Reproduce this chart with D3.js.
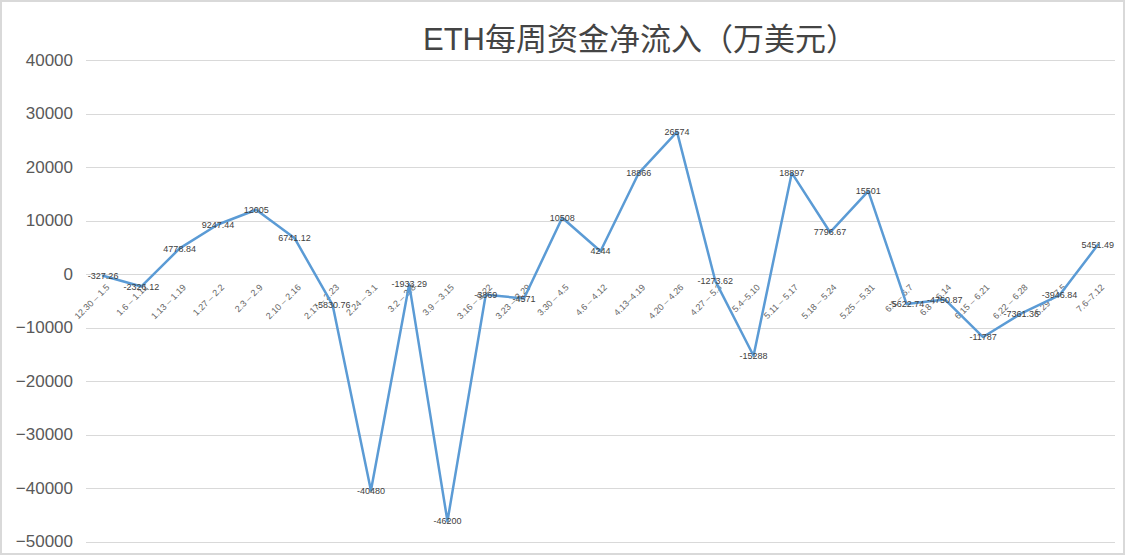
<!DOCTYPE html>
<html><head><meta charset="utf-8">
<script src="https://cdn.jsdelivr.net/npm/d3@7/dist/d3.min.js"></script>
<style>html,body{margin:0;padding:0;background:#fff;}svg{display:block;}</style>
</head><body>
<svg id="chart" width="1125" height="555"></svg>
<script>
const title = "ETH每周资金净流入（万美元）";
const categories = ["12.30 – 1.5","1.6 – 1.12","1.13 – 1.19","1.27 – 2.2","2.3 – 2.9","2.10 – 2.16","2.17 – 2.23","2.24 – 3.1","3.2 – 3.8","3.9 – 3.15","3.16 – 3.22","3.23 – 3.29","3.30 – 4.5","4.6 – 4.12","4.13–4.19","4.20 – 4.26","4.27 – 5.3","5.4–5.10","5.11 – 5.17","5.18 – 5.24","5.25 – 5.31","6.1 – 6.7","6.8 – 6.14","6.15 – 6.21","6.22 – 6.28","6.29 – 7.5","7.6–7.12"];
const values = [-327.26,-2326.12,4778.84,9247.44,12005,6741.12,-5830.76,-40480,-1933.29,-46200,-3869,-4571,10508,4244,18866,26574,-1273.62,-15288,18897,7796.67,15501,-5622.74,-4750.87,-11787,-7361.36,-3946.84,5451.49];
const valueLabels = ["-327.26","-2326.12","4778.84","9247.44","12005","6741.12","-5830.76","-40480","-1933.29","-46200","-3869","-4571","10508","4244","18866","26574","-1273.62","-15288","18897","7796.67","15501","-5622.74","-4750.87","-11787","-7361.36","-3946.84","5451.49"];
const yTicks = [40000,30000,20000,10000,0,-10000,-20000,-30000,-40000,-50000];

const svg = d3.select("#chart");
const latin = "'Liberation Sans', Arial, 'Noto Sans CJK SC', sans-serif";

svg.append("rect").attr("x",1).attr("y",1).attr("width",1123).attr("height",553)
  .attr("fill","#fff").attr("stroke","#d9d9d9").attr("stroke-width",2);

const x = d3.scalePoint().domain(categories).range([84,1117]).padding(0.5);
const y = d3.scaleLinear().domain([-50000,40000]).range([541.5,60]);

// gridlines
svg.append("g").selectAll("line").data(yTicks).join("line")
  .attr("x1",86).attr("x2",1115)
  .attr("y1",d=>Math.round(y(d))+0.5).attr("y2",d=>Math.round(y(d))+0.5)
  .attr("stroke","#d9d9d9").attr("stroke-width",1);

// y axis labels
const yAxis = d3.axisLeft(y).tickValues(yTicks).tickSize(0).tickPadding(0).tickFormat(d3.format("d"));
const ya = svg.append("g").attr("transform","translate(73,0)").call(yAxis);
ya.select(".domain").remove();
ya.selectAll("text").attr("font-family",latin).attr("font-size",17).attr("fill","#595959");

// x labels
svg.append("g").selectAll("text").data(categories).join("text")
  .attr("transform",d=>`translate(${x(d)+7},${y(0)+14}) rotate(-45)`)
  .attr("text-anchor","end")
  .attr("font-family",latin).attr("font-size",9).attr("fill","#666666")
  .text(d=>d);

// line
const line = d3.line().x((d,i)=>x(categories[i])).y(d=>y(d));
svg.append("path").datum(values).attr("d",line)
  .attr("fill","none").attr("stroke","#5b9bd5").attr("stroke-width",2.5)
  .attr("stroke-linejoin","round").attr("stroke-linecap","round");

// data labels
svg.append("g").selectAll("text").data(values).join("text")
  .attr("x",(d,i)=>x(categories[i])).attr("y",d=>y(d))
  .attr("dy","0.35em").attr("text-anchor","middle")
  .attr("font-family",latin).attr("font-size",9).attr("fill","#404040")
  .text((d,i)=>valueLabels[i]);

// title
svg.append("text").attr("x",640).attr("y",50).attr("text-anchor","middle")
  .attr("font-family",latin).attr("font-size",31).attr("fill","#444444")
  .text(title);
</script>
</body></html>
